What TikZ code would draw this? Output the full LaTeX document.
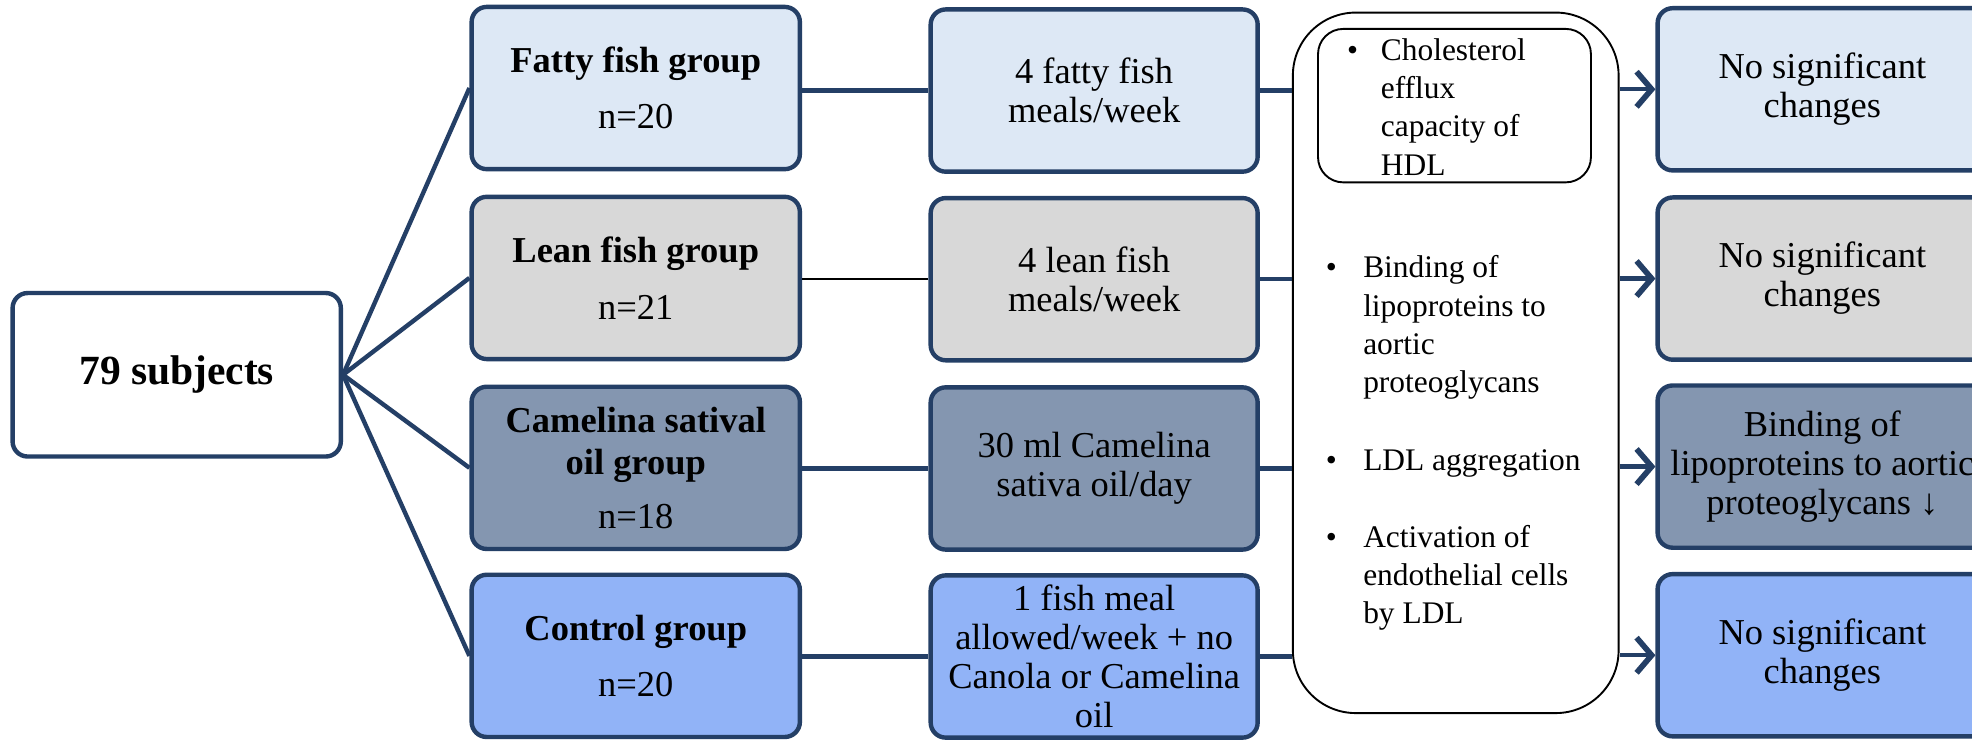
\documentclass[tikz,border=0pt]{standalone}
\usepackage{fontspec}
\setmainfont{Liberation Serif}
\usetikzlibrary{arrows.meta}
\definecolor{navy}{HTML}{243F66}
\definecolor{cfatty}{HTML}{DDE8F5}
\definecolor{clean}{HTML}{D8D8D8}
\definecolor{ccam}{HTML}{8496B0}
\definecolor{cctrl}{HTML}{91B3F7}
\begin{document}
\begin{tikzpicture}[x=1pt,y=-1pt,
  every node/.style={inner sep=0pt},
  box/.style={draw=navy, line width=3.5pt, rounded corners=12pt, minimum height=129pt, align=center, font=\fontsize{29}{31}\selectfont},
  grp/.style={box, minimum width=261pt, font=\bfseries\fontsize{29}{33}\selectfont},
  diet/.style={box, minimum width=260pt},
  res/.style={box, minimum width=262pt},
  link/.style={draw=navy, line width=3.5pt},
  arr/.style={draw=navy, line width=3.5pt, -{Straight Barb[length=12pt,width=28pt,line width=4.5pt]}},
  item/.style={anchor=base west, font=\fontsize{25}{30.4}\selectfont},
  outline/.style={draw=black, line width=1.5pt}
]
\useasboundingbox (0,0) rectangle (1568,588);
\clip (0,0) rectangle (1568,588);
\fill[white] (0,0) rectangle (1568,588);

% start box
\node[box, minimum width=261pt, minimum height=130pt, font=\bfseries\fontsize{33}{36}\selectfont] (subj) at (140.5,298) {79 subjects};

% group boxes
\node[grp, fill=cfatty] (g1) at (505.5,70) {Fatty fish group\\[12pt]{\mdseries n=20}};
\node[grp, fill=clean] (g2) at (505.5,221) {Lean fish group\\[12pt]{\mdseries n=21}};
\node[grp, fill=ccam] (g3) at (505.5,372) {Camelina satival\\oil group\\[10pt]{\mdseries n=18}};
\node[grp, fill=cctrl] (g4) at (505.5,521.5) {Control group\\[12pt]{\mdseries n=20}};

% diet boxes
\node[diet, fill=cfatty] (d1) at (870,72) {4 fatty fish\\meals/week};
\node[diet, fill=clean] (d2) at (870,222) {4 lean fish\\meals/week};
\node[diet, fill=ccam] (d3) at (870,372.5) {30 ml Camelina\\sativa oil/day};
\node[diet, fill=cctrl] (d4) at (870,522) {1 fish meal\\allowed/week + no\\Canola or Camelina\\oil};

% measurement box
\node[outline, rounded corners=50pt, minimum width=259pt, minimum height=557pt] (big) at (1157.5,288.5) {};
\node[outline, rounded corners=20pt, minimum width=217pt, minimum height=122pt] (inner) at (1156.5,84) {};

\node[item] (i1) at (1071,48) {\begin{tabular}[t]{@{}l@{\hspace{18pt}}l@{}}\textbullet & Cholesterol\\ & efflux\\ & capacity of\\ & HDL\end{tabular}};
\node[item] (i2) at (1054,221) {\begin{tabular}[t]{@{}l@{\hspace{21pt}}l@{}}\textbullet & Binding of\\ & lipoproteins to\\ & aortic\\ & proteoglycans\end{tabular}};
\node[item] (i3) at (1054,374) {\begin{tabular}[t]{@{}l@{\hspace{21pt}}l@{}}\textbullet & LDL aggregation\end{tabular}};
\node[item] (i4) at (1054,435) {\begin{tabular}[t]{@{}l@{\hspace{21pt}}l@{}}\textbullet & Activation of\\ & endothelial cells\\ & by LDL\end{tabular}};

% result boxes
\node[res, fill=cfatty] (r1) at (1449,71) {No significant\\changes};
\node[res, fill=clean] (r2) at (1449,221.5) {No significant\\changes};
\node[res, fill=ccam] (r3) at (1449,371) {Binding of\\lipoproteins to aortic\\proteoglycans ↓};
\node[res, fill=cctrl] (r4) at (1449,521) {No significant\\changes};

% connectors
\foreach \g in {g1,g2,g3,g4} \draw[link] (subj.east) -- (\g.west);
\draw[link] (g1.east |- d1.west) -- (d1.west);
\draw[draw=black, line width=2pt] (g2.east |- d2.west) -- (d2.west);
\draw[link] (g3.east |- d3.west) -- (d3.west);
\draw[link] (g4.east |- d4.west) -- (d4.west);
\foreach \d in {d1,d2,d3,d4} \draw[link] (\d.east) -- (\d.east -| big.west);
\foreach \r in {r1,r2,r3,r4} \draw[arr] (\r.west -| big.east) -- (\r.west);
\end{tikzpicture}
\end{document}
